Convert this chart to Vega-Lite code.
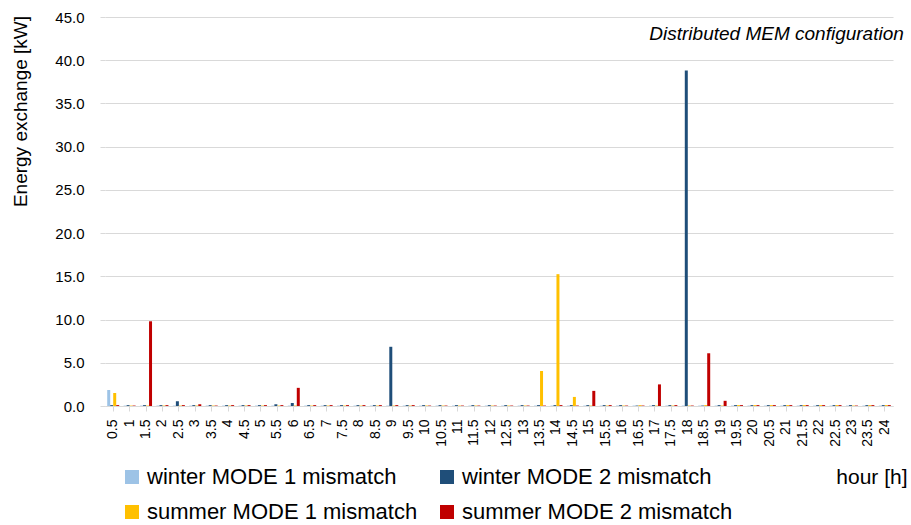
{
  "$schema": "https://vega.github.io/schema/vega-lite/v6.json",
  "autosize": {"type": "none"},
  "padding": {"left": 105, "top": 17, "right": 18, "bottom": 119},
  "width": 788,
  "height": 389,
  "background": "white",
  "config": {"view": {"stroke": null}, "font": "Liberation Sans"},
  "layer": [
    {
      "data": {"values": [
    {"h":"0.5","s":"winter MODE 1 mismatch","v":1.85},{"h":"0.5","s":"winter MODE 2 mismatch","v":0.1},{"h":"0.5","s":"summer MODE 1 mismatch","v":1.5},{"h":"0.5","s":"summer MODE 2 mismatch","v":0.1},
    {"h":"1","s":"winter MODE 1 mismatch","v":0.05},{"h":"1","s":"winter MODE 2 mismatch","v":0.1},{"h":"1","s":"summer MODE 1 mismatch","v":0.05},{"h":"1","s":"summer MODE 2 mismatch","v":0.05},
    {"h":"1.5","s":"winter MODE 1 mismatch","v":0.05},{"h":"1.5","s":"winter MODE 2 mismatch","v":0.1},{"h":"1.5","s":"summer MODE 1 mismatch","v":0.05},{"h":"1.5","s":"summer MODE 2 mismatch","v":9.8},
    {"h":"2","s":"winter MODE 1 mismatch","v":0.05},{"h":"2","s":"winter MODE 2 mismatch","v":0.1},{"h":"2","s":"summer MODE 1 mismatch","v":0.05},{"h":"2","s":"summer MODE 2 mismatch","v":0.1},
    {"h":"2.5","s":"winter MODE 1 mismatch","v":0.05},{"h":"2.5","s":"winter MODE 2 mismatch","v":0.55},{"h":"2.5","s":"summer MODE 1 mismatch","v":0.05},{"h":"2.5","s":"summer MODE 2 mismatch","v":0.1},
    {"h":"3","s":"winter MODE 1 mismatch","v":0.05},{"h":"3","s":"winter MODE 2 mismatch","v":0.1},{"h":"3","s":"summer MODE 1 mismatch","v":0.05},{"h":"3","s":"summer MODE 2 mismatch","v":0.2},
    {"h":"3.5","s":"winter MODE 1 mismatch","v":0.05},{"h":"3.5","s":"winter MODE 2 mismatch","v":0.1},{"h":"3.5","s":"summer MODE 1 mismatch","v":0.05},{"h":"3.5","s":"summer MODE 2 mismatch","v":0.05},
    {"h":"4","s":"winter MODE 1 mismatch","v":0.05},{"h":"4","s":"winter MODE 2 mismatch","v":0.1},{"h":"4","s":"summer MODE 1 mismatch","v":0.05},{"h":"4","s":"summer MODE 2 mismatch","v":0.1},
    {"h":"4.5","s":"winter MODE 1 mismatch","v":0.05},{"h":"4.5","s":"winter MODE 2 mismatch","v":0.1},{"h":"4.5","s":"summer MODE 1 mismatch","v":0.05},{"h":"4.5","s":"summer MODE 2 mismatch","v":0.1},
    {"h":"5","s":"winter MODE 1 mismatch","v":0.05},{"h":"5","s":"winter MODE 2 mismatch","v":0.1},{"h":"5","s":"summer MODE 1 mismatch","v":0.05},{"h":"5","s":"summer MODE 2 mismatch","v":0.1},
    {"h":"5.5","s":"winter MODE 1 mismatch","v":0.05},{"h":"5.5","s":"winter MODE 2 mismatch","v":0.2},{"h":"5.5","s":"summer MODE 1 mismatch","v":0.05},{"h":"5.5","s":"summer MODE 2 mismatch","v":0.1},
    {"h":"6","s":"winter MODE 1 mismatch","v":0.05},{"h":"6","s":"winter MODE 2 mismatch","v":0.35},{"h":"6","s":"summer MODE 1 mismatch","v":0.05},{"h":"6","s":"summer MODE 2 mismatch","v":2.1},
    {"h":"6.5","s":"winter MODE 1 mismatch","v":0.05},{"h":"6.5","s":"winter MODE 2 mismatch","v":0.1},{"h":"6.5","s":"summer MODE 1 mismatch","v":0.05},{"h":"6.5","s":"summer MODE 2 mismatch","v":0.1},
    {"h":"7","s":"winter MODE 1 mismatch","v":0.05},{"h":"7","s":"winter MODE 2 mismatch","v":0.1},{"h":"7","s":"summer MODE 1 mismatch","v":0.05},{"h":"7","s":"summer MODE 2 mismatch","v":0.1},
    {"h":"7.5","s":"winter MODE 1 mismatch","v":0.05},{"h":"7.5","s":"winter MODE 2 mismatch","v":0.1},{"h":"7.5","s":"summer MODE 1 mismatch","v":0.05},{"h":"7.5","s":"summer MODE 2 mismatch","v":0.1},
    {"h":"8","s":"winter MODE 1 mismatch","v":0.05},{"h":"8","s":"winter MODE 2 mismatch","v":0.1},{"h":"8","s":"summer MODE 1 mismatch","v":0.05},{"h":"8","s":"summer MODE 2 mismatch","v":0.1},
    {"h":"8.5","s":"winter MODE 1 mismatch","v":0.05},{"h":"8.5","s":"winter MODE 2 mismatch","v":0.1},{"h":"8.5","s":"summer MODE 1 mismatch","v":0.05},{"h":"8.5","s":"summer MODE 2 mismatch","v":0.1},
    {"h":"9","s":"winter MODE 1 mismatch","v":0.05},{"h":"9","s":"winter MODE 2 mismatch","v":6.85},{"h":"9","s":"summer MODE 1 mismatch","v":0.05},{"h":"9","s":"summer MODE 2 mismatch","v":0.1},
    {"h":"9.5","s":"winter MODE 1 mismatch","v":0.05},{"h":"9.5","s":"winter MODE 2 mismatch","v":0.1},{"h":"9.5","s":"summer MODE 1 mismatch","v":0.05},{"h":"9.5","s":"summer MODE 2 mismatch","v":0.1},
    {"h":"10","s":"winter MODE 1 mismatch","v":0.05},{"h":"10","s":"winter MODE 2 mismatch","v":0.1},{"h":"10","s":"summer MODE 1 mismatch","v":0.05},{"h":"10","s":"summer MODE 2 mismatch","v":0.05},
    {"h":"10.5","s":"winter MODE 1 mismatch","v":0.05},{"h":"10.5","s":"winter MODE 2 mismatch","v":0.1},{"h":"10.5","s":"summer MODE 1 mismatch","v":0.05},{"h":"10.5","s":"summer MODE 2 mismatch","v":0.05},
    {"h":"11","s":"winter MODE 1 mismatch","v":0.05},{"h":"11","s":"winter MODE 2 mismatch","v":0.1},{"h":"11","s":"summer MODE 1 mismatch","v":0.05},{"h":"11","s":"summer MODE 2 mismatch","v":0.05},
    {"h":"11.5","s":"winter MODE 1 mismatch","v":0.05},{"h":"11.5","s":"winter MODE 2 mismatch","v":0.1},{"h":"11.5","s":"summer MODE 1 mismatch","v":0.05},{"h":"11.5","s":"summer MODE 2 mismatch","v":0.05},
    {"h":"12","s":"winter MODE 1 mismatch","v":0.05},{"h":"12","s":"winter MODE 2 mismatch","v":0.1},{"h":"12","s":"summer MODE 1 mismatch","v":0.05},{"h":"12","s":"summer MODE 2 mismatch","v":0.05},
    {"h":"12.5","s":"winter MODE 1 mismatch","v":0.05},{"h":"12.5","s":"winter MODE 2 mismatch","v":0.1},{"h":"12.5","s":"summer MODE 1 mismatch","v":0.05},{"h":"12.5","s":"summer MODE 2 mismatch","v":0.05},
    {"h":"13","s":"winter MODE 1 mismatch","v":0.05},{"h":"13","s":"winter MODE 2 mismatch","v":0.1},{"h":"13","s":"summer MODE 1 mismatch","v":0.05},{"h":"13","s":"summer MODE 2 mismatch","v":0.05},
    {"h":"13.5","s":"winter MODE 1 mismatch","v":0.05},{"h":"13.5","s":"winter MODE 2 mismatch","v":0.1},{"h":"13.5","s":"summer MODE 1 mismatch","v":4.05},{"h":"13.5","s":"summer MODE 2 mismatch","v":0.05},
    {"h":"14","s":"winter MODE 1 mismatch","v":0.05},{"h":"14","s":"winter MODE 2 mismatch","v":0.1},{"h":"14","s":"summer MODE 1 mismatch","v":15.25},{"h":"14","s":"summer MODE 2 mismatch","v":0.1},
    {"h":"14.5","s":"winter MODE 1 mismatch","v":0.05},{"h":"14.5","s":"winter MODE 2 mismatch","v":0.1},{"h":"14.5","s":"summer MODE 1 mismatch","v":1.05},{"h":"14.5","s":"summer MODE 2 mismatch","v":0.05},
    {"h":"15","s":"winter MODE 1 mismatch","v":0.05},{"h":"15","s":"winter MODE 2 mismatch","v":0.1},{"h":"15","s":"summer MODE 1 mismatch","v":0.05},{"h":"15","s":"summer MODE 2 mismatch","v":1.75},
    {"h":"15.5","s":"winter MODE 1 mismatch","v":0.05},{"h":"15.5","s":"winter MODE 2 mismatch","v":0.1},{"h":"15.5","s":"summer MODE 1 mismatch","v":0.05},{"h":"15.5","s":"summer MODE 2 mismatch","v":0.1},
    {"h":"16","s":"winter MODE 1 mismatch","v":0.05},{"h":"16","s":"winter MODE 2 mismatch","v":0.1},{"h":"16","s":"summer MODE 1 mismatch","v":0.05},{"h":"16","s":"summer MODE 2 mismatch","v":0.05},
    {"h":"16.5","s":"winter MODE 1 mismatch","v":0.05},{"h":"16.5","s":"winter MODE 2 mismatch","v":0.05},{"h":"16.5","s":"summer MODE 1 mismatch","v":0.1},{"h":"16.5","s":"summer MODE 2 mismatch","v":0.05},
    {"h":"17","s":"winter MODE 1 mismatch","v":0.05},{"h":"17","s":"winter MODE 2 mismatch","v":0.1},{"h":"17","s":"summer MODE 1 mismatch","v":0.05},{"h":"17","s":"summer MODE 2 mismatch","v":2.5},
    {"h":"17.5","s":"winter MODE 1 mismatch","v":0.05},{"h":"17.5","s":"winter MODE 2 mismatch","v":0.1},{"h":"17.5","s":"summer MODE 1 mismatch","v":0.05},{"h":"17.5","s":"summer MODE 2 mismatch","v":0.1},
    {"h":"18","s":"winter MODE 1 mismatch","v":0.05},{"h":"18","s":"winter MODE 2 mismatch","v":38.8},{"h":"18","s":"summer MODE 1 mismatch","v":0.05},{"h":"18","s":"summer MODE 2 mismatch","v":0.05},
    {"h":"18.5","s":"winter MODE 1 mismatch","v":0.05},{"h":"18.5","s":"winter MODE 2 mismatch","v":0.05},{"h":"18.5","s":"summer MODE 1 mismatch","v":0.1},{"h":"18.5","s":"summer MODE 2 mismatch","v":6.1},
    {"h":"19","s":"winter MODE 1 mismatch","v":0.05},{"h":"19","s":"winter MODE 2 mismatch","v":0.1},{"h":"19","s":"summer MODE 1 mismatch","v":0.05},{"h":"19","s":"summer MODE 2 mismatch","v":0.6},
    {"h":"19.5","s":"winter MODE 1 mismatch","v":0.05},{"h":"19.5","s":"winter MODE 2 mismatch","v":0.1},{"h":"19.5","s":"summer MODE 1 mismatch","v":0.1},{"h":"19.5","s":"summer MODE 2 mismatch","v":0.1},
    {"h":"20","s":"winter MODE 1 mismatch","v":0.05},{"h":"20","s":"winter MODE 2 mismatch","v":0.1},{"h":"20","s":"summer MODE 1 mismatch","v":0.1},{"h":"20","s":"summer MODE 2 mismatch","v":0.1},
    {"h":"20.5","s":"winter MODE 1 mismatch","v":0.05},{"h":"20.5","s":"winter MODE 2 mismatch","v":0.1},{"h":"20.5","s":"summer MODE 1 mismatch","v":0.1},{"h":"20.5","s":"summer MODE 2 mismatch","v":0.1},
    {"h":"21","s":"winter MODE 1 mismatch","v":0.05},{"h":"21","s":"winter MODE 2 mismatch","v":0.1},{"h":"21","s":"summer MODE 1 mismatch","v":0.1},{"h":"21","s":"summer MODE 2 mismatch","v":0.1},
    {"h":"21.5","s":"winter MODE 1 mismatch","v":0.05},{"h":"21.5","s":"winter MODE 2 mismatch","v":0.1},{"h":"21.5","s":"summer MODE 1 mismatch","v":0.1},{"h":"21.5","s":"summer MODE 2 mismatch","v":0.1},
    {"h":"22","s":"winter MODE 1 mismatch","v":0.05},{"h":"22","s":"winter MODE 2 mismatch","v":0.1},{"h":"22","s":"summer MODE 1 mismatch","v":0.1},{"h":"22","s":"summer MODE 2 mismatch","v":0.1},
    {"h":"22.5","s":"winter MODE 1 mismatch","v":0.05},{"h":"22.5","s":"winter MODE 2 mismatch","v":0.1},{"h":"22.5","s":"summer MODE 1 mismatch","v":0.1},{"h":"22.5","s":"summer MODE 2 mismatch","v":0.1},
    {"h":"23","s":"winter MODE 1 mismatch","v":0.05},{"h":"23","s":"winter MODE 2 mismatch","v":0.1},{"h":"23","s":"summer MODE 1 mismatch","v":0.05},{"h":"23","s":"summer MODE 2 mismatch","v":0.05},
    {"h":"23.5","s":"winter MODE 1 mismatch","v":0.05},{"h":"23.5","s":"winter MODE 2 mismatch","v":0.1},{"h":"23.5","s":"summer MODE 1 mismatch","v":0.1},{"h":"23.5","s":"summer MODE 2 mismatch","v":0.1},
    {"h":"24","s":"winter MODE 1 mismatch","v":0.05},{"h":"24","s":"winter MODE 2 mismatch","v":0.1},{"h":"24","s":"summer MODE 1 mismatch","v":0.1},{"h":"24","s":"summer MODE 2 mismatch","v":0.1}
      ]},
      "mark": {"type": "bar"},
      "encoding": {
        "x": {
          "field": "h", "type": "nominal", "sort": null,
          "scale": {"paddingInner": 0.27, "paddingOuter": 0.135},
          "axis": {
            "title": "hour [h]", "titleFontSize": 21, "titleFontWeight": "normal", "titleColor": "#000000",
            "titleX": 802, "titleY": 71, "titleAlign": "right", "titleBaseline": "middle", "titleAnchor": null,
            "labelAngle": -90, "labelFontSize": 14, "labelColor": "#000000", "labelPadding": 8,
            "labelOverlap": false, "labelAlign": "right", "labelBaseline": "middle",
            "domainColor": "#d9d9d9", "tickColor": "#d9d9d9", "tickSize": 5, "grid": false
          }
        },
        "xOffset": {
          "field": "s", "type": "nominal",
          "scale": {"domain": ["winter MODE 1 mismatch", "winter MODE 2 mismatch", "summer MODE 1 mismatch", "summer MODE 2 mismatch"], "paddingInner": 0, "paddingOuter": 0}
        },
        "y": {
          "field": "v", "type": "quantitative",
          "scale": {"domain": [0, 45], "nice": false},
          "axis": {
            "title": "Energy exchange [kW]", "titleFontSize": 19, "titleFontWeight": "normal", "titleColor": "#000000",
            "titleX": -85, "titleY": 94, "titleAngle": -90, "titleAlign": "center", "titleBaseline": "middle", "titleAnchor": null,
            "values": [0, 5, 10, 15, 20, 25, 30, 35, 40, 45], "format": ".1f",
            "labelFontSize": 15, "labelColor": "#000000", "labelPadding": 16,
            "domain": false, "tickColor": "#d9d9d9", "tickSize": 5,
            "grid": true, "gridColor": "#d9d9d9", "gridWidth": 1
          }
        },
        "color": {
          "field": "s", "type": "nominal",
          "scale": {"domain": ["winter MODE 1 mismatch", "winter MODE 2 mismatch", "summer MODE 1 mismatch", "summer MODE 2 mismatch"], "range": ["#9DC3E6", "#1F4E79", "#FFC000", "#C00000"]},
          "legend": {
            "title": null, "orient": "none", "legendX": 16, "legendY": 449, "direction": "horizontal", "columns": 2,
            "symbolType": "square", "symbolSize": 196, "symbolStrokeWidth": 0, "labelFontSize": 22, "labelColor": "#000000",
            "labelOffset": 4, "columnPadding": 18, "rowPadding": 13, "padding": 0, "labelLimit": 400
          }
        }
      }
    },
    {
      "data": {"values": [{"label": "Distributed MEM configuration", "h": "24", "v": 42.3}]},
      "mark": {"type": "text", "align": "right", "baseline": "alphabetic", "fontStyle": "italic", "fontSize": 19, "font": "Liberation Sans", "color": "#000000", "dx": 19},
      "encoding": {
        "x": {"field": "h", "type": "nominal", "sort": null},
        "y": {"field": "v", "type": "quantitative"},
        "text": {"field": "label"}
      }
    }
  ]
}
